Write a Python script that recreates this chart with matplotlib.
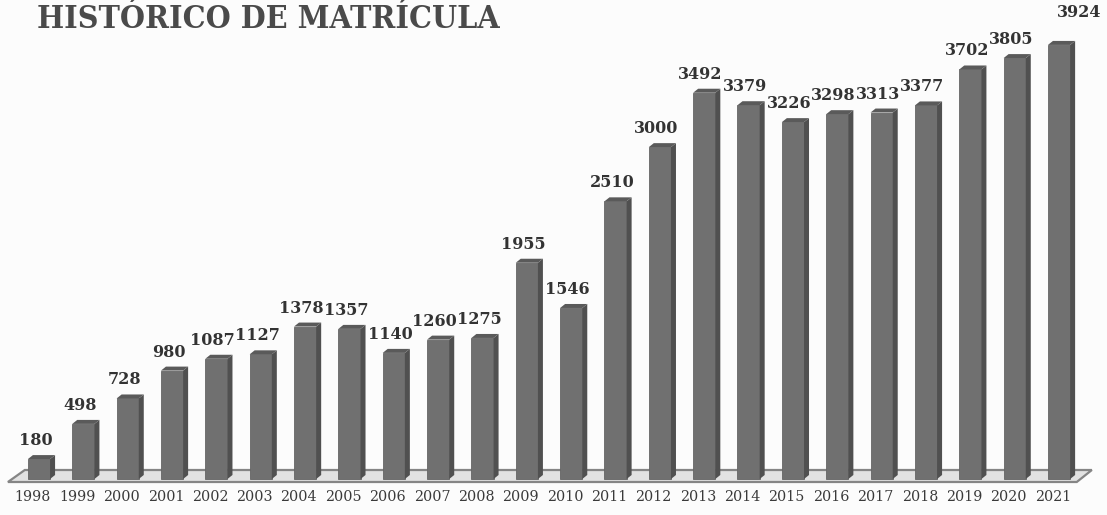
import numpy as np
import matplotlib.pyplot as plt
from matplotlib.patches import Polygon

# enrollment per year
years = ["1998", "1999", "2000", "2001", "2002", "2003", "2004", "2005",
         "2006", "2007", "2008", "2009", "2010", "2011", "2012", "2013",
         "2014", "2015", "2016", "2017", "2018", "2019", "2020", "2021"]
matricula = [180, 498, 728, 980, 1087, 1127, 1378, 1357, 1140, 1260, 1275, 1955,
             1546, 2510, 3000, 3492, 3379, 3226, 3298, 3313, 3377, 3702, 3805, 3924]

fig = plt.figure(figsize=(11.07, 5.15), dpi=100, facecolor="#fcfcfc")
ax = fig.add_axes([0, 0, 1, 1])
ax.set_facecolor("#fcfcfc")

k = 9.04  # data units per pixel (vertical)
ax.set_xlim(-0.879, -0.879 + 1107 / 44.35)
ax.set_ylim(-36 * k, 479 * k)
ax.axis("off")

x = np.arange(len(years))
w = 0.5
dx = 5 / 44.35   # depth, horizontal
dy = 4 * k       # depth, vertical

# floor
floor = Polygon([(-0.70, -3 * k), (23.40, -3 * k), (23.74, 9 * k), (-0.32, 9 * k)],
                closed=True, facecolor="#e2e2e2", edgecolor="#858585", lw=1.6, zorder=1)
ax.add_patch(floor)

bars = ax.bar(x, matricula, width=w, color="#707070", edgecolor="#656565",
              lw=0.6, zorder=3)

for xi, v in zip(x, matricula):
    r = xi + w / 2
    l = xi - w / 2
    side = Polygon([(r, 0), (r + dx, dy), (r + dx, v + dy), (r, v)],
                   closed=True, facecolor="#505050", edgecolor="none", zorder=3)
    top = Polygon([(l, v), (r, v), (r + dx, v + dy), (l + dx, v + dy)],
                  closed=True, facecolor="#5a5a5a", edgecolor="none", zorder=3)
    ax.add_patch(side)
    ax.add_patch(top)

# value labels
for i, (xi, v) in enumerate(zip(x, matricula)):
    off = 10 * k
    xo = xi - 0.08
    if i == len(x) - 1:
        off = 24 * k
        xo = xi + 0.45
    ax.text(xo, v + off, str(v), ha="center", va="bottom", fontsize=11.5,
            family="DejaVu Serif", fontweight="bold", color="#333333", zorder=4)

# year labels
for xi, yr in zip(x, years):
    ax.text(xi - 0.14, -18 * k, yr, ha="center", va="center", fontsize=10.3,
            family="DejaVu Serif", color="#3a3a3a")

fig.text(37 / 1107, 1 - 20 / 515, "HISTÓRICO DE MATRÍCULA", ha="left", va="center",
         fontsize=23, family="DejaVu Serif", fontstretch="condensed",
         fontweight="bold", color="#4a4a4a")

fig.savefig("out.png", dpi=100, facecolor=fig.get_facecolor())
